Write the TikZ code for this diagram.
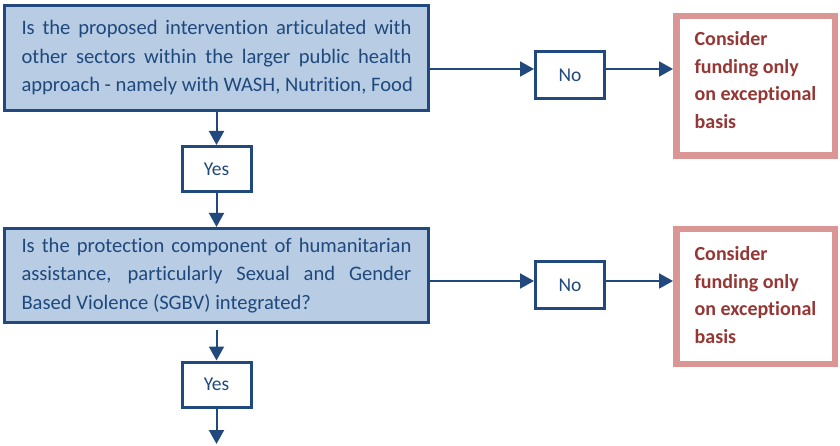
\documentclass[tikz,border=0pt]{standalone}
\usepackage{fontspec}
\setmainfont{Carlito}[Ligatures=NoCommon]
\usetikzlibrary{positioning, arrows.meta}
\usepackage{xcolor}
\definecolor{qfill}{HTML}{B8CCE4}
\definecolor{qline}{HTML}{22497D}
\definecolor{qtext}{HTML}{1F497D}
\definecolor{cline}{HTML}{D99694}
\definecolor{ctext}{HTML}{953735}
\newcommand{\jline}[1]{\makebox[390pt][s]{#1}\\}
\newcommand{\lline}[1]{\makebox[390pt][l]{#1}}

\begin{document}
\begin{tikzpicture}[x=1pt, y=-1pt,
    question/.style={draw=qline, line width=3.2pt, fill=qfill, text=qtext,
      minimum width=424pt, align=left, inner sep=0pt,
      font=\fontsize{20.6}{28.5}\selectfont},
    answer/.style={draw=qline, line width=3pt, fill=white, text=qtext,
      minimum width=69pt, minimum height=45pt, font=\fontsize{19.5}{23}\selectfont},
    consider/.style={draw=cline, line width=6.5pt, fill=white, text=ctext,
      align=left, minimum width=158.5pt, font=\bfseries\fontsize{20}{27.7}\selectfont},
    arr/.style={draw=qline, line width=2pt, -{Triangle[length=14pt, width=15pt]}}]
    \useasboundingbox (0,0) rectangle (840,446);

    \node[question, minimum height=105pt] (q1) at (216.5,58)
      {\jline{Is the proposed intervention articulated with}
       \jline{other sectors within the larger public health}
       \lline{approach - namely with WASH, Nutrition, Food}};
    \node[answer] (y1) at (216.5,169) {Yes};
    \node[question, minimum height=94pt] (q2) at (216.5,275.5)
      {\jline{Is the protection component of humanitarian}
       \jline{assistance, particularly Sexual and Gender}
       \lline{Based Violence (SGBV) integrated?}};
    \node[answer] (y2) at (216.5,384.5) {Yes};
    \coordinate (end) at (216.5,444);

    \draw[arr] (q1) -- (y1);
    \draw[arr] (y1) -- (q2);
    \draw[arr] ([yshift=-6pt]q2.south) -- (y2.north);
    \draw[arr] (y2) -- (end);

    \foreach \i/\ny/\cy/\ch/\ly/\td in {1/75/86/139.5/69/12, 2/285/296.5/134.5/281/3}{
      \node[answer, minimum height=47pt] (n\i) at (570,\ny) {No};
      \node[consider, minimum height=\ch pt, text depth=\td pt] (c\i) at (755.5,\cy)
        {Consider\\funding only\\on exceptional\\basis};
      \coordinate (h\i) at (570,\ly);
      \draw[arr] (q\i.east |- h\i) -- (n\i.west |- h\i);
      \draw[arr] (n\i.east |- h\i) -- (c\i.west |- h\i);
    }
\end{tikzpicture}
\end{document}
